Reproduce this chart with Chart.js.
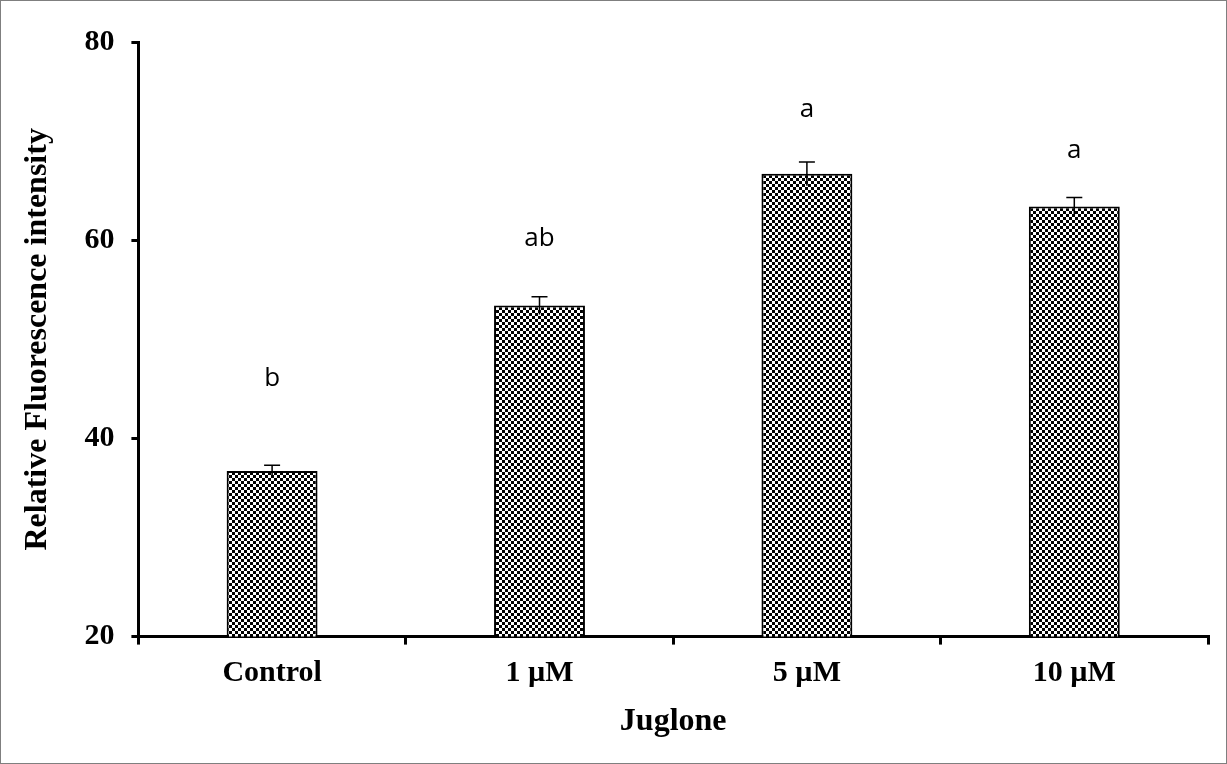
<!DOCTYPE html>
<html>
<head>
<meta charset="utf-8">
<script src="https://cdn.jsdelivr.net/npm/chart.js@4"></script>
<style>
  body { margin: 0; background: #fff; }
  #wrap { position: relative; width: 1227px; height: 764px; box-sizing: border-box; border: 1px solid #7f7f7f; }
</style>
</head>
<body>
<div id="wrap"><canvas id="chart" width="1225" height="762"></canvas></div>
<script>
// Data
const categories = ['Control', '1 \u00b5M', '5 \u00b5M', '10 \u00b5M'];
const fluorescence = [36.7, 53.4, 66.7, 63.4];
const errors = [0.6, 0.9, 1.2, 0.9];
const letters = ['b', 'ab', 'a', 'a'];
const letterHeights = [46.0, 60.2, 73.2, 69.0];
const yTicks = [20, 40, 60, 80];

// checkered fill like the original
function makePattern() {
    const c = document.createElement('canvas');
    c.width = 6; c.height = 6;
    const g = c.getContext('2d');
    g.fillStyle = '#fff';
    g.fillRect(0, 0, 6, 6);
    g.fillStyle = '#000';
    g.fillRect(0, 0, 3, 3);
    g.fillRect(3, 3, 3, 3);
    return g.createPattern(c, 'repeat');
}

const canvas = document.getElementById('chart');
const ctx = canvas.getContext('2d');

// error bars + significance letters
const extras = {
    id: 'extras',
    afterDatasetsDraw(chart) {
        const x = chart.scales.x, y = chart.scales.y;
        const c = chart.ctx;
        c.save();
        c.strokeStyle = '#000';
        c.lineWidth = 1.5;
        fluorescence.forEach((v, i) => {
            const px = x.getPixelForValue(i);
            const top = y.getPixelForValue(v + errors[i]);
            const low = y.getPixelForValue(v - errors[i]);
            c.beginPath();
            c.moveTo(px, low);
            c.lineTo(px, top);
            c.moveTo(px - 8, top);
            c.lineTo(px + 8, top);
            c.stroke();
        });
        c.fillStyle = '#000';
        c.font = '26px "Open Sans", "Noto Sans", sans-serif';
        c.textAlign = 'center';
        c.textBaseline = 'middle';
        letters.forEach((t, i) => {
            c.fillText(t, x.getPixelForValue(i), y.getPixelForValue(letterHeights[i]));
        });
        c.restore();
    }
};

const serif = '"Liberation Serif", "Times New Roman", serif';

new Chart(ctx, {
    type: 'bar',
    data: {
        labels: categories,
        datasets: [{
            label: 'Relative Fluorescence intensity',
            data: fluorescence,
            backgroundColor: makePattern(),
            borderColor: '#000',
            borderWidth: 2,
            borderSkipped: false,
            barPercentage: 0.34,
            categoryPercentage: 1.0
        }]
    },
    options: {
        responsive: false,
        animation: false,
        layout: { padding: { top: 41, right: 18, bottom: 22, left: 14 } },
        plugins: {
            legend: { display: false },
            tooltip: { enabled: false }
        },
        scales: {
            x: {
                grid: { offset: true, drawOnChartArea: false, tickLength: 8, color: '#000', lineWidth: 3 },
                border: { color: '#000', width: 3 },
                ticks: { color: '#000', font: { family: serif, size: 30, weight: 'bold' }, padding: 11 },
                title: { display: true, text: 'Juglone', color: '#000', font: { family: serif, size: 32, weight: 'bold' }, padding: { top: 0, bottom: 0 } }
            },
            y: {
                min: 20,
                max: 80,
                afterBuildTicks(axis) { axis.ticks = yTicks.map(v => ({ value: v })); },
                grid: { drawOnChartArea: false, tickLength: 7, color: '#000', lineWidth: 3 },
                border: { color: '#000', width: 3 },
                ticks: { color: '#000', font: { family: serif, size: 30, weight: 'bold' }, padding: 17 },
                title: { display: true, text: 'Relative Fluorescence intensity', color: '#000', font: { family: serif, size: 32, weight: 'bold' }, padding: { bottom: 10 } }
            }
        }
    },
    plugins: [extras]
});
</script>
</body>
</html>
